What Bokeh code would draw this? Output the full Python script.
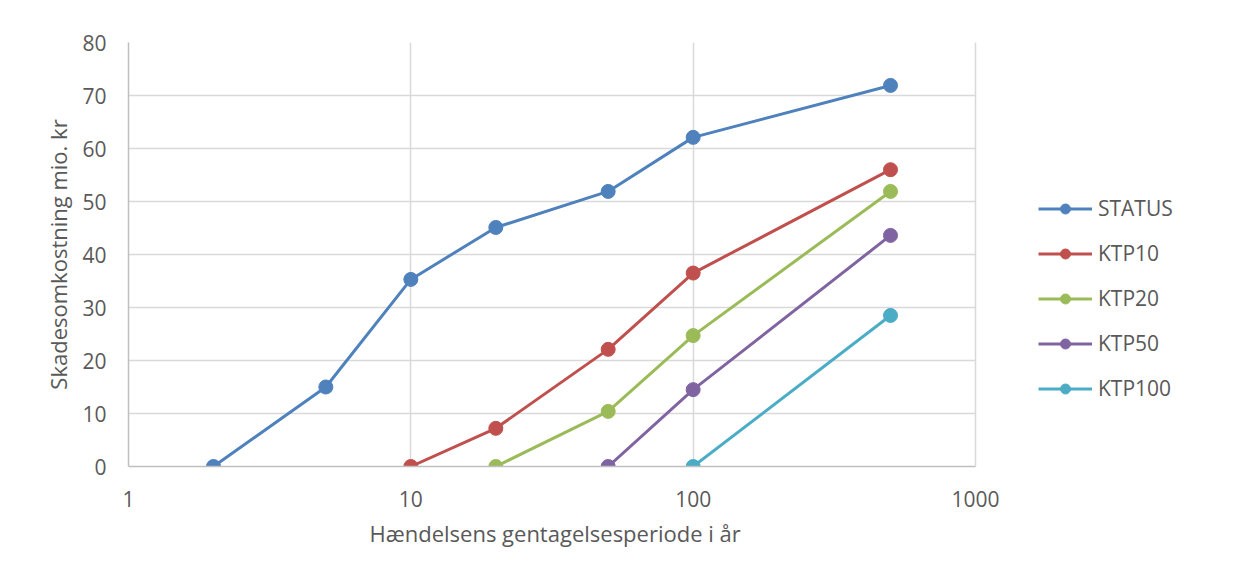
from bokeh.plotting import figure
from bokeh.models import Range1d, FixedTicker, PrintfTickFormatter, Legend, LegendItem, Title
from bokeh.embed import file_html
from bokeh.resources import INLINE

status_x = [2, 5, 10, 20, 50, 100, 500]
status_y = [0, 15, 35.3, 45.1, 51.9, 62.1, 71.9]
ktp10_x = [10, 20, 50, 100, 500]
ktp10_y = [0, 7.2, 22.1, 36.5, 56.0]
ktp20_x = [20, 50, 100, 500]
ktp20_y = [0, 10.4, 24.7, 51.9]
ktp50_x = [50, 100, 500]
ktp50_y = [0, 14.5, 43.6]
ktp100_x = [100, 500]
ktp100_y = [0, 28.5]

series = [
    ("STATUS", status_x, status_y, "#4f81bd"),
    ("KTP10", ktp10_x, ktp10_y, "#c0504d"),
    ("KTP20", ktp20_x, ktp20_y, "#9bbb59"),
    ("KTP50", ktp50_x, ktp50_y, "#8064a2"),
    ("KTP100", ktp100_x, ktp100_y, "#4bacc6"),
]

x_ticks = [1, 10, 100, 1000]
y_ticks = [0, 10, 20, 30, 40, 50, 60, 70, 80]
x_min, x_max = 1, 1000
y_min, y_max = 0, 80
x_title = "Hændelsens gentagelsesperiode i år"
y_title = "Skadesomkostning mio. kr"

FONT = "Open Sans"
TXT = "#595959"

W, H = 1229, 563
LEFT, TOP, BOTTOM = 128, 42, 97
AXIS_RIGHT = 975
axis_px = AXIS_RIGHT - LEFT      # plot width of the 1..1000 axis
extra_px = W - AXIS_RIGHT        # room to the right for the legend
decades = 3
x_end = x_max * 10 ** (decades * extra_px / axis_px)

p = figure(width=W, height=H, x_axis_type="log",
           x_range=Range1d(x_min, x_end), y_range=Range1d(y_min, y_max),
           output_backend="svg", toolbar_location=None,
           min_border_left=LEFT, min_border_right=0,
           min_border_top=TOP, min_border_bottom=BOTTOM)
p.outline_line_color = None

p.xaxis.ticker = FixedTicker(ticks=x_ticks)
p.xaxis.formatter = PrintfTickFormatter(format="%d")
p.xaxis.bounds = (x_min, x_max)
p.yaxis.ticker = FixedTicker(ticks=y_ticks)
p.xgrid.ticker = FixedTicker(ticks=x_ticks)

for g in (p.xgrid[0], p.ygrid[0]):
    g.grid_line_color = "#d9d9d9"
    g.grid_line_width = 1.5

try:
    p.ygrid.ticker = FixedTicker(ticks=y_ticks)
    p.ygrid[0].cross_bounds = (x_min, x_max)
except Exception:
    p.ygrid.visible = False
    p.segment(x0=[x_min] * len(y_ticks), x1=[x_max] * len(y_ticks),
              y0=y_ticks, y1=y_ticks, line_color="#d9d9d9", line_width=1.5,
              level="underlay")

items = []
for name, xs, ys, col in series:
    r1 = p.line(xs, ys, line_color=col, line_width=3)
    r2 = p.scatter(xs, ys, size=14, fill_color=col, line_color=col)
    items.append(LegendItem(label=name, renderers=[r1, r2]))

for ax in (p.xaxis[0], p.yaxis[0]):
    ax.major_tick_line_color = None
    ax.minor_tick_line_color = None
    ax.axis_line_color = "#bfbfbf"
    ax.axis_line_width = 1.5
    ax.major_label_text_font = FONT
    ax.major_label_text_font_size = "21px"
    ax.major_label_text_color = TXT
    ax.axis_label_text_font = FONT
    ax.axis_label_text_font_size = "22px"
    ax.axis_label_text_color = TXT
    ax.axis_label_text_font_style = "normal"

p.yaxis.axis_label = y_title
p.xaxis.major_label_standoff = 18
p.yaxis.major_label_standoff = 16
p.yaxis.axis_label_standoff = 6

# x-axis title placed under the 1..1000 axis (not under the legend area)
xt = Title(text=x_title, align="left", offset=241,
           text_font=FONT, text_font_size="22px", text_color=TXT,
           text_font_style="normal", standoff=12)
p.add_layout(xt, "below")

legend = Legend(items=items, location=(910, 64), orientation="vertical",
                label_text_font=FONT, label_text_font_size="21px",
                label_text_color=TXT, glyph_width=54, glyph_height=25,
                label_height=25, spacing=17, padding=0, margin=0,
                label_standoff=6, border_line_color=None,
                background_fill_alpha=0)
p.add_layout(legend, "center")

open("out.html", "w").write(file_html(p, INLINE))
